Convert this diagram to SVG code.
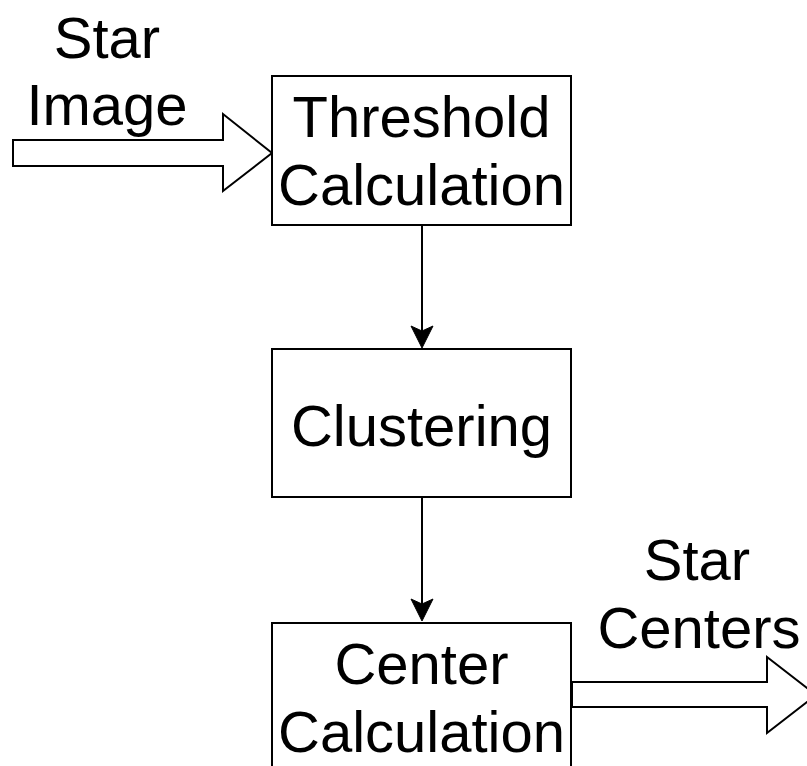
<svg xmlns="http://www.w3.org/2000/svg" width="807" height="766" viewBox="0 0 807 766">
  <style>
    .box { fill: #ffffff; stroke: #000000; stroke-width: 2; }
    .flow { fill: #ffffff; stroke: #000000; stroke-width: 2; stroke-linejoin: miter; }
    .edge { fill: none; stroke: #000000; stroke-width: 2; }
    .head { fill: #000000; stroke: #000000; stroke-width: 1; stroke-linejoin: miter; }
    text { font-family: "Liberation Sans", Arial, Helvetica, sans-serif; font-size: 58px; fill: #000000; text-anchor: middle; }
  </style>
  <rect width="807" height="766" fill="#ffffff"/>

  <!-- input / output block arrows -->
  <g id="input-arrow">
    <polygon class="flow" points="13,140 223,140 223,114 272,153 223,191 223,166 13,166"/>
    <text x="107" y="58">Star</text>
    <text x="107" y="125">Image</text>
  </g>
  <g id="output-arrow">
    <polygon class="flow" points="572,682 767,682 767,657 816,695 767,733 767,707 572,707"/>
    <text x="697" y="580">Star</text>
    <text x="699" y="648">Centers</text>
  </g>

  <!-- process steps -->
  <g id="threshold">
    <rect class="box" x="272" y="76" width="299" height="149"/>
    <text x="421.5" y="137">Threshold</text>
    <text x="421.5" y="205">Calculation</text>
  </g>
  <g id="clustering">
    <rect class="box" x="272" y="349" width="299" height="148"/>
    <text x="421.5" y="446">Clustering</text>
  </g>
  <g id="center">
    <rect class="box" x="272" y="623" width="299" height="150"/>
    <text x="421.5" y="684">Center</text>
    <text x="421.5" y="752">Calculation</text>
  </g>

  <!-- connectors -->
  <g id="connectors">
    <line class="edge" x1="422" y1="225" x2="422" y2="332"/>
    <polygon class="head" points="422,348 411,326 422,331 433,326"/>
    <line class="edge" x1="422" y1="497" x2="422" y2="605"/>
    <polygon class="head" points="422,621 411,599 422,604 433,599"/>
  </g>
</svg>
